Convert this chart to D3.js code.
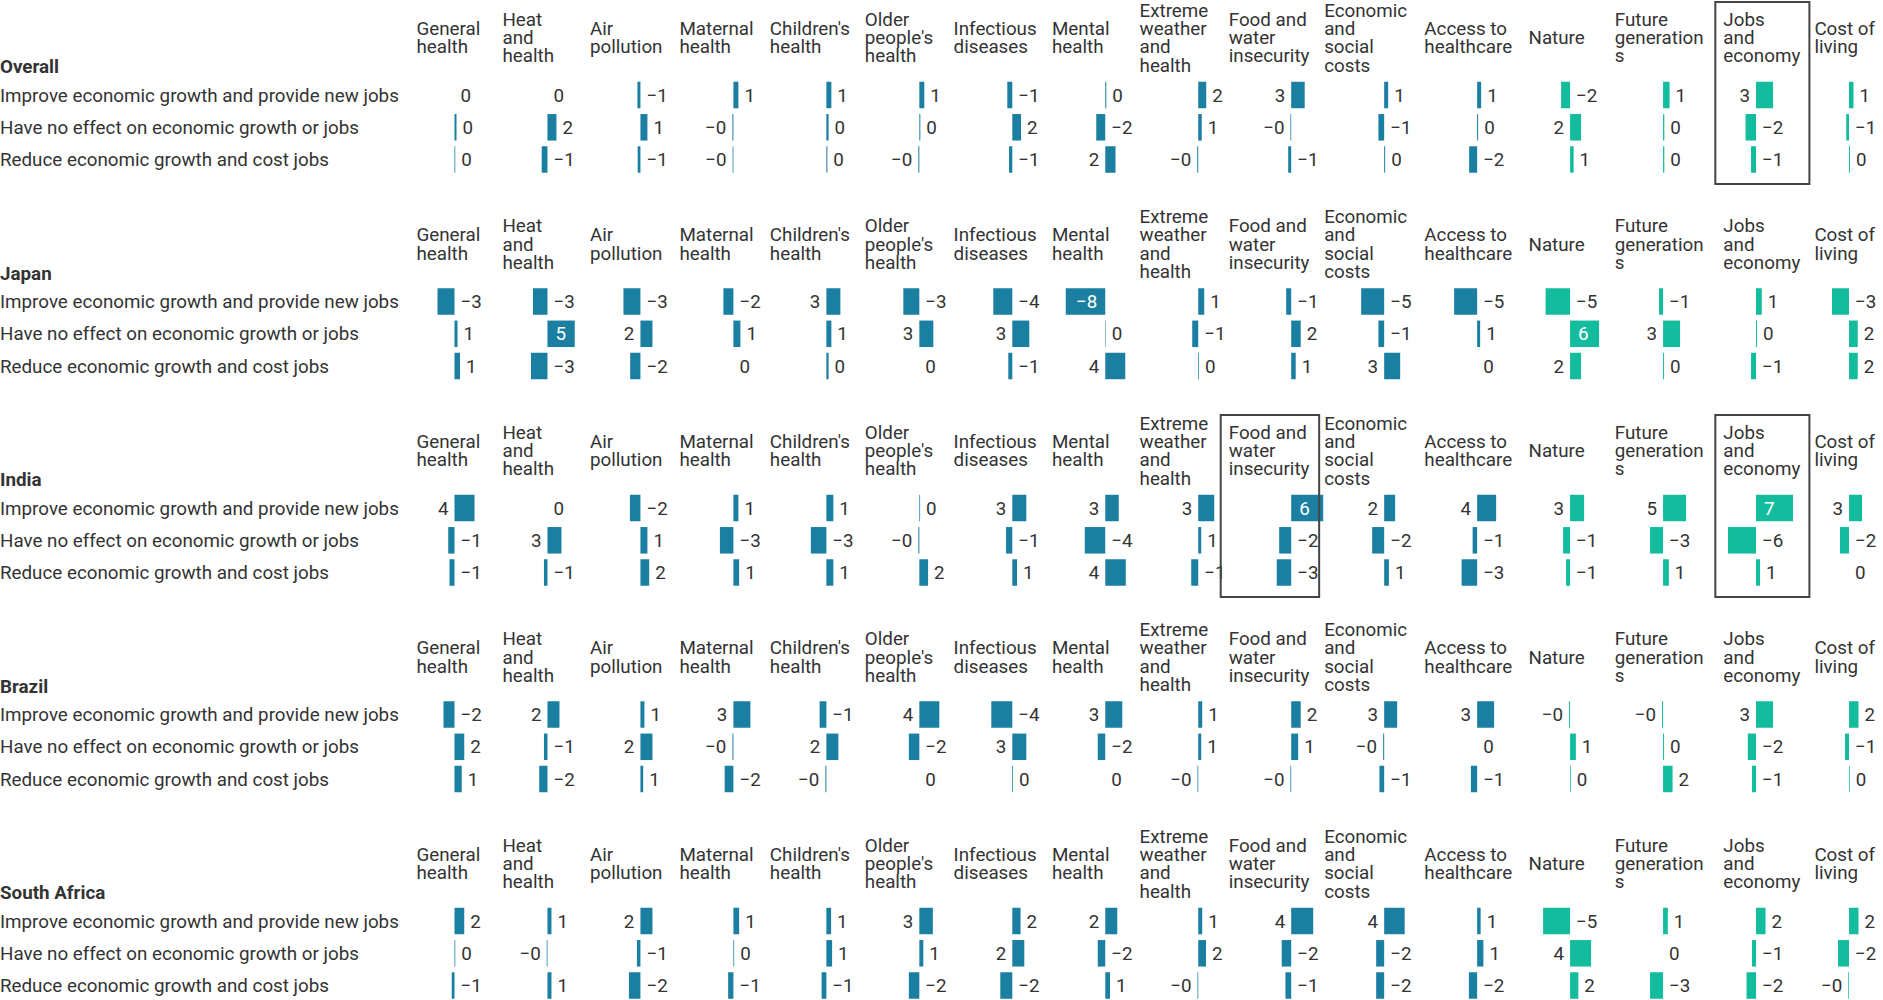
<!DOCTYPE html>
<html><head><meta charset="utf-8">
<script src="https://cdn.jsdelivr.net/npm/d3@7"></script>
<style>
html,body{margin:0;padding:0;background:#fff;}
svg{display:block;font-family:Roboto,"Noto Sans",sans-serif;}
</style></head><body>
<svg id="chart" width="1883" height="1000"></svg>
<script>
// ---------------- DATA ----------------
const countries = ["Overall", "Japan", "India", "Brazil", "South Africa"];
const responses = [
  "Improve economic growth and provide new jobs",
  "Have no effect on economic growth or jobs",
  "Reduce economic growth and cost jobs"
];
const categories = [
  "General health", "Heat and health", "Air pollution", "Maternal health",
  "Children's health", "Older people's health", "Infectious diseases", "Mental health",
  "Extreme weather and health", "Food and water insecurity", "Economic and social costs",
  "Access to healthcare", "Nature", "Future generations", "Jobs and economy", "Cost of living"
];
const headerLines = [
  ["General", "health"], ["Heat", "and", "health"], ["Air", "pollution"], ["Maternal", "health"],
  ["Children's", "health"], ["Older", "people's", "health"], ["Infectious", "diseases"], ["Mental", "health"],
  ["Extreme", "weather", "and", "health"], ["Food and", "water", "insecurity"], ["Economic", "and", "social", "costs"],
  ["Access to", "healthcare"], ["Nature"], ["Future", "generation", "s"], ["Jobs", "and", "economy"], ["Cost of", "living"]
];
const greenCategories = ["Nature", "Future generations", "Jobs and economy", "Cost of living"];

// rows: Improve / Have no effect / Reduce ; columns follow `categories`
const overallValues = [
  [0, 0, -0.6, 1.0, 1.0, 1.0, -1.0, 0.2, 1.6, 2.7, 0.8, 0.8, -1.8, 1.3, 3.4, 0.9],
  [0.4, 1.8, 1.4, -0.2, 0.45, 0.2, 1.75, -1.8, 0.7, -0.15, -1.15, 0.2, 2.2, 0.25, -2.1, -0.55],
  [0.15, -1.15, -0.55, -0.15, 0.2, -0.2, -0.65, 2.05, -0.2, -0.6, 0.2, -1.6, 0.7, 0.25, -1.0, 0.2]
];
const japanValues = [
  [-3.4, -2.9, -3.4, -2.0, 2.8, -3.2, -3.8, -7.9, 1.2, -1.0, -4.6, -4.6, -4.9, -0.8, 1.15, -3.4],
  [0.6, 5.45, 2.4, 1.4, 1.0, 2.8, 3.4, 0.1, -1.2, 1.9, -1.15, 0.6, 5.8, 3.4, 0.2, 1.75],
  [1.1, -3.3, -2.05, 0, 0.45, 0, -0.8, 4.0, 0.15, 0.9, 3.2, 0, 2.2, 0.2, -1.0, 1.75]
];
const indiaValues = [
  [4.0, 0, -2.1, 1.0, 1.4, 0.15, 2.8, 2.7, 3.2, 6.4, 2.2, 3.8, 2.8, 4.6, 7.4, 2.6],
  [-1.25, 2.8, 1.4, -2.7, -3.1, -0.2, -1.25, -4.1, 0.6, -2.4, -2.4, -0.9, -1.4, -2.6, -5.6, -1.8],
  [-1.0, -0.7, 1.75, 1.15, 1.4, 1.75, 0.95, 4.1, -1.4, -2.9, 0.95, -3.1, -0.8, 1.15, 0.8, 0]
];
const brazilValues = [
  [-2.2, 2.4, 0.8, 3.4, -1.35, 4.0, -4.2, 3.4, 0.8, 1.9, 2.6, 3.4, -0.2, -0.2, 3.4, 1.9],
  [1.95, -0.7, 2.4, -0.2, 2.4, -2.1, 2.8, -1.5, 0.6, 1.4, -0.2, 0, 1.15, 0.2, -1.65, -0.8],
  [1.45, -1.65, 0.55, -1.75, -0.2, 0, 0.15, 0, -0.15, -0.15, -0.95, -1.25, 0.15, 1.9, -0.8, 0.15]
];
const southAfricaValues = [
  [1.95, 0.8, 2.4, 1.15, 0.95, 2.7, 1.65, 2.4, 0.8, 4.4, 4.1, 0.7, -5.4, 0.95, 1.9, 1.9],
  [0.15, -0.15, -0.7, 0.15, 1.15, 0.8, 2.4, -1.5, 1.55, -1.9, -1.6, 1.25, 4.2, 0, -0.8, -2.2],
  [-0.55, 0.8, -2.3, -1.05, -0.95, -2.1, -2.4, 0.95, -0.15, -1.15, -1.6, -1.65, 1.65, -2.6, -1.9, -0.15]
];
const highlights = [
  { country: "Overall", category: "Jobs and economy" },
  { country: "India", category: "Food and water insecurity" },
  { country: "India", category: "Jobs and economy" }
];

// ---------------- LAYOUT ----------------
const valuesByCountry = [overallValues, japanValues, indiaValues, brazilValues, southAfricaValues];
const W = 1883, H = 1000;
const FONT = 18.8;
const TEXT = "#333333";
const BLUE = "#1b7fa2", GREEN = "#13bc9c";
const sectionPitch = 206.5;
const rowCenters = [95, 127.3, 159.5];
const countryLabelY = 66.7;
const headerCenterY = 37.5, lineH = 18.3;
const barH = 26.5;
const GAP = 6, INSIDE_PAD = 8;
// header text starts relative to each column's zero line
const headerOffset = [-38, -45, -50.5, -54, -56.5, -54.5, -58.7, -53.3, -58.7, -62.5, -60, -52.8, -41.6, -48.3, -32.7, -34.6];

const svg = d3.select("#chart");
const colZero = d3.scalePoint().domain(categories).range([454.5, 1849]);
const barLen = d3.scaleLinear().domain([0, 8]).range([0, 40]);
const sectionY = d3.scalePoint().domain(countries).range([0, sectionPitch * (countries.length - 1)]);

const ctx = document.createElement("canvas").getContext("2d");
ctx.font = FONT + "px Roboto";
const fmt = v => (v < 0 ? "\u2212" : "") + Math.round(Math.abs(v));

countries.forEach((country, ci) => {
  const top = sectionY(country);
  const g = svg.append("g").attr("transform", `translate(0,${top})`);

  g.append("text").attr("x", 0).attr("y", countryLabelY).attr("dy", "0.35em")
    .attr("font-size", FONT).attr("font-weight", 700).attr("fill", TEXT).text(country);

  responses.forEach((r, ri) => {
    g.append("text").attr("x", 0).attr("y", rowCenters[ri]).attr("dy", "0.35em")
      .attr("font-size", FONT).attr("fill", TEXT).text(r);
  });

  categories.forEach((cat, k) => {
    const x0 = colZero(cat);
    const lines = headerLines[k];
    const ht = g.append("text").attr("font-size", FONT).attr("fill", TEXT);
    lines.forEach((ln, li) => {
      ht.append("tspan").attr("x", x0 + headerOffset[k])
        .attr("y", headerCenterY + (li - (lines.length - 1) / 2) * lineH)
        .attr("dy", "0.35em").text(ln);
    });

    const color = greenCategories.includes(cat) ? GREEN : BLUE;
    responses.forEach((r, ri) => {
      const v = valuesByCountry[ci][ri][k];
      const w = barLen(Math.abs(v));
      const cy = rowCenters[ri];
      if (w > 0) {
        g.append("rect").attr("x", v >= 0 ? x0 : x0 - w).attr("y", cy - barH / 2)
          .attr("width", w).attr("height", barH).attr("fill", color);
      }
      const label = fmt(v);
      const lw = ctx.measureText(label).width;
      let pos;
      if (w >= lw + 2 * INSIDE_PAD) pos = "inside";
      else if (v >= 0) pos = v < 2 ? "right" : "left";
      else pos = v > -0.5 ? "left" : "right";
      let lx, anchor = "start", fill = TEXT;
      if (pos === "inside") {
        fill = "#ffffff";
        if (v >= 0) { lx = x0 + INSIDE_PAD; } else { lx = x0 - INSIDE_PAD; anchor = "end"; }
      } else if (pos === "right") {
        lx = v >= 0 ? x0 + w + GAP : x0 + GAP;
      } else {
        anchor = "end";
        lx = v >= 0 ? x0 - GAP : x0 - w - GAP;
      }
      g.append("text").attr("x", lx).attr("y", cy).attr("dy", "0.35em")
        .attr("text-anchor", anchor).attr("font-size", FONT).attr("fill", fill).text(label);
    });
  });
});

// highlight boxes
highlights.forEach(h => {
  const k = categories.indexOf(h.category);
  const left = colZero(h.category) + headerOffset[k] - 8;
  const right = k < categories.length - 1
    ? colZero(categories[k + 1]) + headerOffset[k + 1] - 5
    : W - 2;
  const top = sectionY(h.country);
  svg.append("rect").attr("x", left).attr("y", top + 2)
    .attr("width", right - left).attr("height", 182)
    .attr("fill", "none").attr("stroke", "#444").attr("stroke-width", 2);
});
</script>
</body></html>
